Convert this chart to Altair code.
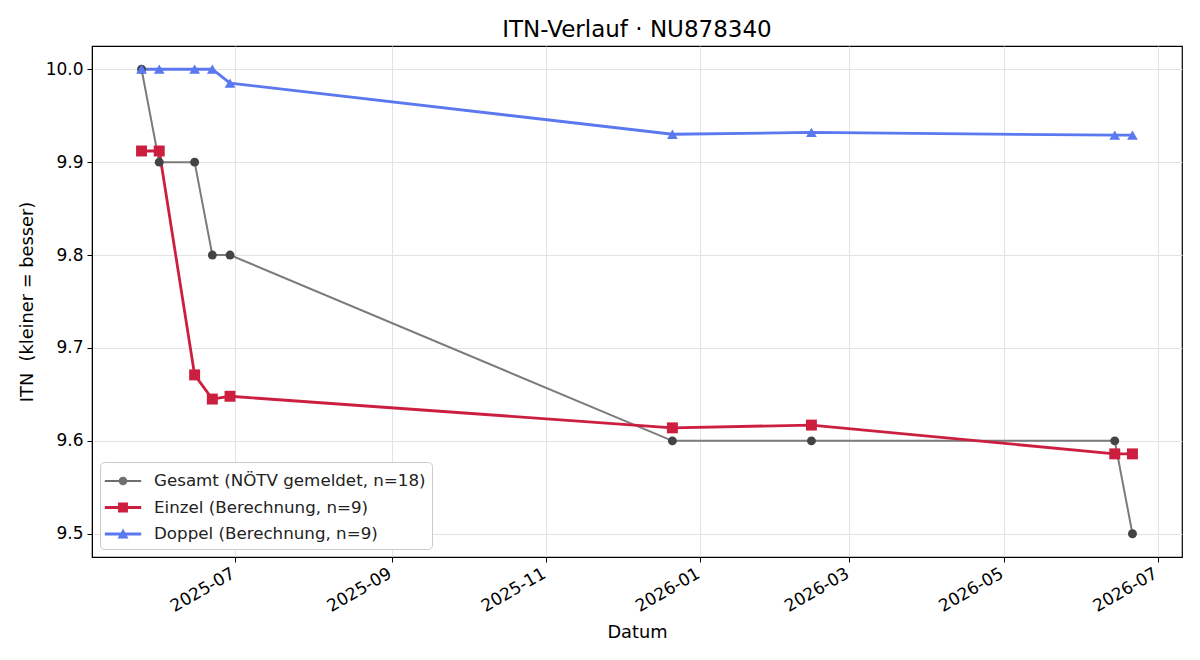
import altair as alt
import pandas as pd

dates = ["2025-05-25", "2025-06-01", "2025-06-15", "2025-06-22", "2025-06-29",
         "2025-12-21", "2026-02-14", "2026-06-14", "2026-06-21"]
gesamt = [10.0, 9.9, 9.9, 9.8, 9.8, 9.6, 9.6, 9.6, 9.5]
einzel = [9.912, 9.912, 9.671, 9.645, 9.648, 9.614, 9.617, 9.586, 9.586]
doppel = [10.0, 10.0, 10.0, 10.0, 9.985, 9.930, 9.932, 9.929, 9.929]

series_names = ["Gesamt (NÖTV gemeldet, n=18)",
                "Einzel (Berechnung, n=9)",
                "Doppel (Berechnung, n=9)"]
line_colors = ["#7b7b7b", "#cc1f40", "#5a78ef"]
marker_colors = ["#444444", "#cc1f40", "#5a78ef"]
legend_colors = ["#6e6e6e", "#cc1f40", "#5a78ef"]
marker_shapes = ["circle", "square", "triangle-up"]
marker_sizes = [80, 120, 115]
line_widths = [2.0, 2.8, 2.8]
legend_paths = [
    "M-1.4,-0.08L1.4,-0.08L1.4,0.08L-1.4,0.08Z M0.33,0A0.33,0.33 0 1,1 -0.33,0A0.33,0.33 0 1,1 0.33,0Z",
    "M-1.4,-0.11L1.4,-0.11L1.4,0.11L-1.4,0.11Z M-0.38,-0.38L0.38,-0.38L0.38,0.38L-0.38,0.38Z",
    "M-1.4,-0.11L1.4,-0.11L1.4,0.11L-1.4,0.11Z M0,-0.42L0.42,0.34L-0.42,0.34Z",
]

x_ticks = ["2025-07-01", "2025-09-01", "2025-11-01", "2026-01-01",
           "2026-03-01", "2026-05-01", "2026-07-01"]
y_ticks = [9.5, 9.6, 9.7, 9.8, 9.9, 10.0]

rows = []
for name, vals in zip(series_names, [gesamt, einzel, doppel]):
    for d, v in zip(dates, vals):
        rows.append({"Datum": d, "ITN": v, "Serie": name})
df = pd.DataFrame(rows)

x_enc = alt.X("Datum:T",
              scale=alt.Scale(domain=["2025-05-05T09:36:00", "2026-07-10T14:24:00"]),
              axis=alt.Axis(values=x_ticks, format="%Y-%m", labelAngle=330,
                            labelAlign="right", labelBaseline="top",
                            labelOffset=-6, labelPadding=3,
                            title="Datum", grid=True))
y_enc = alt.Y("ITN:Q",
              scale=alt.Scale(domain=[9.475, 10.025], nice=False, zero=False),
              axis=alt.Axis(values=y_ticks, format=".1f",
                            title="ITN\u00a0 (kleiner = besser)", grid=True))

base = alt.Chart(df)

legend_layer = base.mark_point(filled=True, opacity=1, size=1).encode(
    x=x_enc, y=y_enc,
    color=alt.Color("Serie:N",
                    scale=alt.Scale(domain=series_names, range=legend_colors),
                    legend=alt.Legend(orient="bottom-left", title=None,
                                      symbolOpacity=1, symbolSize=676,
                                      symbolStrokeWidth=0, labelFontSize=16.7,
                                      labelFont="DejaVu Sans", labelColor="#222222",
                                      labelLimit=0,
                                      rowPadding=4.5, padding=6, offset=8,
                                      strokeColor="#cccccc", fillColor="white",
                                      cornerRadius=4, labelOffset=18,
                                      symbolOffset=4)),
    shape=alt.Shape("Serie:N",
                    scale=alt.Scale(domain=series_names, range=legend_paths)),
)

layers = [legend_layer]
for i, name in enumerate(series_names):
    sub = base.transform_filter(alt.datum.Serie == name)
    layers.append(sub.mark_line(color=line_colors[i], strokeWidth=line_widths[i])
                  .encode(x=x_enc, y=y_enc))
for i, name in enumerate(series_names):
    sub = base.transform_filter(alt.datum.Serie == name)
    layers.append(sub.mark_point(filled=True, shape=marker_shapes[i],
                                 size=marker_sizes[i], color=marker_colors[i],
                                 opacity=1)
                  .encode(x=x_enc, y=y_enc))

chart = alt.layer(*layers).properties(
    width=1090, height=511,
    title=alt.TitleParams("ITN-Verlauf · NU878340", fontSize=23,
                          font="DejaVu Sans", fontWeight="normal",
                          color="black", offset=4),
    autosize=alt.AutoSizeParams(type="none"),
    padding={"left": 92, "top": 46, "right": 18, "bottom": 103},
).configure_view(stroke="black", strokeWidth=1.2).configure_axis(
    labelFont="DejaVu Sans", titleFont="DejaVu Sans",
    labelFontSize=17, titleFontSize=17.8, titleFontWeight="normal",
    labelColor="black", titleColor="black",
    domainColor="black", tickColor="black", tickSize=5,
    gridColor="#e3e3e3", gridWidth=1,
).configure_axisY(titlePadding=9, labelPadding=4).configure_axisX(titlePadding=9)

chart.save("out.html", embed_options={"renderer": "svg", "actions": False})
